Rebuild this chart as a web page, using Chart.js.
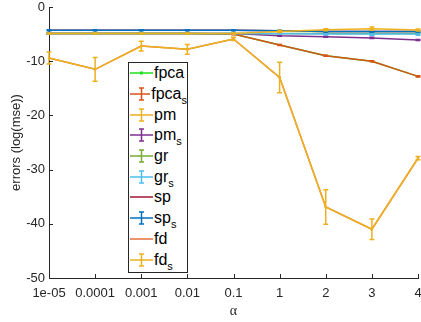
<!DOCTYPE html>
<html>
<head>
<meta charset="utf-8">
<script src="https://cdn.jsdelivr.net/npm/chart.js@4.4.1/dist/chart.umd.min.js"></script>
<style>
html, body { margin: 0; padding: 0; background: #fff; }
#wrap { position: relative; width: 421px; height: 322px; }
#legend {
    position: absolute; left: 128px; top: 62px; width: 58px; height: 209px;
    border: 1px solid #262626; background: #fff;
    font-family: 'Liberation Sans', Arial, sans-serif; font-size: 16px; color: #000;
}
#legend .row { height: 20.7px; display: flex; align-items: center; white-space: nowrap; }
#legend svg { display: block; margin-left: 1px; margin-right: 1px; }
#legend sub { font-size: 11px; vertical-align: -5px; line-height: 0; }
</style>
</head>
<body>
<div id="wrap">
    <canvas id="chart" width="421" height="322"></canvas>
    <div id="legend"></div>
</div>
<script>
// valeurs
const alphas = ['1e-05', '0.0001', '0.001', '0.01', '0.1', '1', '2', '3', '4'];
const yTicks = [0, -10, -20, -30, -40, -50];

const fpca    = [-4.9, -4.9, -4.9, -4.9, -5.0, -7.0, -9.0, -10.0, -12.8];
const fpca_s  = [-4.9, -4.9, -4.9, -4.9, -5.0, -7.0, -9.0, -10.0, -12.8];
const pm      = [-4.9, -4.9, -4.9, -4.9, -4.9, -4.5, -4.2, -4.0, -4.25];
const pm_s    = [-4.9, -4.9, -4.9, -4.9, -4.9, -5.3, -5.5, -5.7, -6.1];
const gr      = [-4.9, -4.9, -4.9, -4.9, -4.9, -4.9, -4.9, -4.9, -4.9];
const gr_s    = [-4.9, -4.9, -4.9, -4.9, -4.9, -4.95, -5.0, -5.0, -5.0];
const sp      = [-4.3, -4.3, -4.3, -4.3, -4.3, -4.4, -4.5, -4.5, -4.5];
const sp_s    = [-4.3, -4.3, -4.3, -4.3, -4.3, -4.4, -4.5, -4.5, -4.5];
const fd      = [-9.4, -11.5, -7.2, -7.8, -5.9, -13.0, -36.9, -41.0, -27.9];
const fd_s    = [-9.4, -11.5, -7.2, -7.8, -5.9, -13.0, -36.9, -41.0, -27.9];

// barres d'erreur (demi-hauteur)
const fpca_s_err = [0.1, 0.1, 0.1, 0.1, 0.1, 0.1, 0.1, 0.1, 0.1];
const pm_err     = [0.1, 0.1, 0.1, 0.1, 0.1, 0.2, 0.2, 0.3, 0.2];
const pm_s_err   = [0.1, 0.1, 0.1, 0.1, 0.1, 0.1, 0.1, 0.1, 0.1];
const gr_err     = [0.1, 0.1, 0.1, 0.1, 0.1, 0.1, 0.1, 0.1, 0.1];
const gr_s_err   = [0.1, 0.1, 0.1, 0.1, 0.1, 0.1, 0.1, 0.2, 0.2];
const sp_s_err   = [0.1, 0.1, 0.1, 0.1, 0.1, 0.1, 0.1, 0.1, 0.1];
const fd_s_err   = [1.1, 2.2, 0.9, 0.9, 0.3, 2.8, 3.2, 1.9, 0.3];

const series = [
    { name: 'fpca',   data: fpca,   err: null,       color: '#1EE01E', marker: true },
    { name: 'fpca_s', data: fpca_s, err: fpca_s_err, color: '#D95319' },
    { name: 'pm',     data: pm,     err: pm_err,     color: '#EDB120' },
    { name: 'pm_s',   data: pm_s,   err: pm_s_err,   color: '#7E2F8E' },
    { name: 'gr',     data: gr,     err: gr_err,     color: '#77AC30' },
    { name: 'gr_s',   data: gr_s,   err: gr_s_err,   color: '#4DBEEE' },
    { name: 'sp',     data: sp,     err: null,       color: '#A2142F' },
    { name: 'sp_s',   data: sp_s,   err: sp_s_err,   color: '#0072BD' },
    { name: 'fd',     data: fd,     err: null,       color: '#E3703C' },
    { name: 'fd_s',   data: fd_s,   err: fd_s_err,   color: '#EDB120' }
];

const axisColor = '#262626';
const font = { family: "'Liberation Sans', Arial, sans-serif", size: 13 };

// barres d'erreur dessinées avec les échelles du graphique
const errorBars = {
    id: 'errorBars',
    afterDatasetDraw(chart, args) {
        const ds = chart.data.datasets[args.index];
        if (!ds.err) return;
        const ctx = chart.ctx;
        const xs = chart.scales.x, ys = chart.scales.y;
        ctx.save();
        ctx.strokeStyle = ds.borderColor;
        ctx.lineWidth = 1.5;
        ds.data.forEach(function(v, i) {
            const x = xs.getPixelForValue(i);
            const y1 = ys.getPixelForValue(v + ds.err[i]);
            const y2 = ys.getPixelForValue(v - ds.err[i]);
            ctx.beginPath();
            ctx.moveTo(x, y1); ctx.lineTo(x, y2);
            ctx.moveTo(x - 2.5, y1); ctx.lineTo(x + 2.5, y1);
            ctx.moveTo(x - 2.5, y2); ctx.lineTo(x + 2.5, y2);
            ctx.stroke();
        });
        ctx.restore();
    }
};

// petits traits de graduation vers l'intérieur
const innerTicks = {
    id: 'innerTicks',
    afterDraw(chart) {
        const ctx = chart.ctx;
        const xs = chart.scales.x, ys = chart.scales.y;
        const a = chart.chartArea;
        ctx.save();
        ctx.strokeStyle = axisColor;
        ctx.lineWidth = 1;
        ctx.beginPath();
        alphas.forEach(function(_, i) {
            const x = Math.round(xs.getPixelForValue(i)) + 0.5;
            ctx.moveTo(x, a.bottom); ctx.lineTo(x, a.bottom - 4);
        });
        yTicks.forEach(function(t) {
            const y = Math.round(ys.getPixelForValue(t)) + 0.5;
            ctx.moveTo(a.left, y); ctx.lineTo(a.left + 4, y);
        });
        ctx.stroke();
        ctx.restore();
    }
};

const datasets = series.map(function(s, i) {
    return {
        label: s.name,
        data: s.data,
        err: s.err,
        borderColor: s.color,
        backgroundColor: s.color,
        borderWidth: 1.5,
        pointStyle: 'rect',
        pointRadius: 1.5,
        pointBorderWidth: 0,
        tension: 0,
        order: series.length - i
    };
});
// la courbe pm reste visible au-dessus du groupe à -5
datasets[2].order = 0;

new Chart(document.getElementById('chart'), {
    type: 'line',
    data: { labels: alphas, datasets: datasets },
    options: {
        responsive: false,
        animation: false,
        layout: { autoPadding: false, padding: { top: 7, right: 3, left: 0, bottom: 0 } },
        plugins: { legend: { display: false }, tooltip: { enabled: false } },
        scales: {
            x: {
                offset: false,
                grid: { display: true, drawOnChartArea: false, drawTicks: false },
                border: { display: true, color: axisColor, width: 1 },
                ticks: { color: axisColor, font: font, padding: 8, maxRotation: 0, autoSkip: false },
                title: { display: true, text: 'α', color: axisColor,
                         font: { family: "'Liberation Serif', serif", size: 14 }, padding: { top: 0, bottom: 2 } },
                afterFit(scale) {
                    scale.height = 44;
                    scale.paddingLeft = 0; scale.paddingRight = 0;
                }
            },
            y: {
                min: -50, max: 0,
                afterBuildTicks(scale) { scale.ticks = yTicks.map(v => ({ value: v })); },
                grid: { display: true, drawOnChartArea: false, drawTicks: false },
                border: { display: true, color: axisColor, width: 1 },
                ticks: { color: axisColor, font: font, padding: 4 },
                title: { display: true, text: 'errors (log(mse))', color: axisColor,
                         font: font, padding: { top: 9, bottom: 0 } },
                afterFit(scale) {
                    scale.width = 49;
                    scale.paddingTop = 0; scale.paddingBottom = 0;
                }
            }
        }
    },
    plugins: [errorBars, innerTicks]
});

// légende HTML (indices en <sub>)
const legend = document.getElementById('legend');
series.forEach(function(s) {
    const row = document.createElement('div');
    row.className = 'row';
    let svg = '<svg width="23" height="14"><line x1="0" y1="7" x2="23" y2="7" stroke="' + s.color + '" stroke-width="1.5"/>';
    if (s.err) {
        svg += '<path d="M11.5 1V13M9 1H14M9 13H14" stroke="' + s.color + '" stroke-width="1.5" fill="none"/>';
    } else if (s.marker) {
        svg += '<rect x="10" y="5.5" width="3" height="3" fill="' + s.color + '"/>';
    }
    svg += '</svg>';
    const parts = s.name.split('_');
    const txt = '<span>' + parts[0] + (parts[1] ? '<sub>' + parts[1] + '</sub>' : '') + '</span>';
    row.innerHTML = svg + txt;
    legend.appendChild(row);
});
</script>
</body>
</html>
